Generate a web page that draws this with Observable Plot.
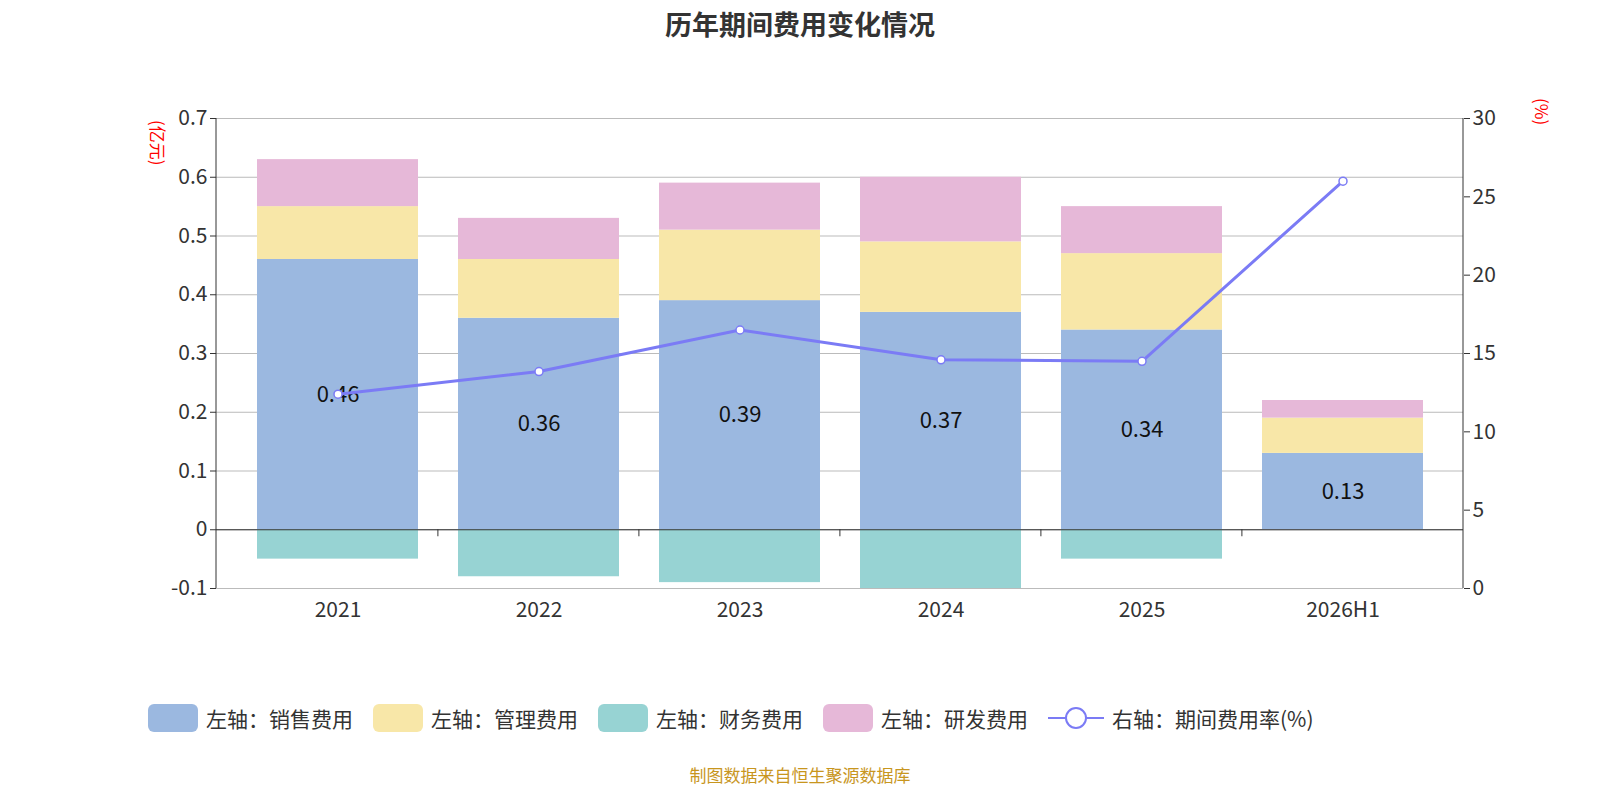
<!DOCTYPE html>
<html><head><meta charset="utf-8">
<script src="https://cdn.jsdelivr.net/npm/d3@7"></script>
<script src="https://cdn.jsdelivr.net/npm/@observablehq/plot@0.6"></script>
<style>
body{margin:0;width:1600px;height:800px;background:#fff;font-family:"Noto Sans CJK SC","Noto Sans",sans-serif;position:relative;overflow:hidden}
#title{position:absolute;top:4px;width:100%;text-align:center;font-size:27px;font-weight:bold;color:#333}
#chart{position:absolute;top:50px;left:0}
#legend{position:absolute;top:703px;left:148px;display:flex;gap:0;font-size:21px;color:#333;align-items:center}
.item{display:flex;align-items:center;margin-right:20px}
.sw{width:50px;height:28px;border-radius:6px;margin-right:8px}
#cap{position:absolute;top:762px;width:100%;text-align:center;font-size:17px;color:#c8961e}
.u{position:absolute;color:red;font-size:17px}
</style></head><body>
<div id="title">历年期间费用变化情况</div>
<div id="chart"></div>
<div class="u" style="left:146px;top:120px;writing-mode:vertical-rl;text-orientation:sideways">(亿元)</div>
<div class="u" style="left:1530px;top:98px;writing-mode:vertical-rl">(%)</div>
<div id="legend"></div>
<div id="cap">制图数据来自恒生聚源数据库</div>
<script>
const years=["2021","2022","2023","2024","2025","2026H1"];
const sales=[0.46,0.36,0.39,0.37,0.34,0.13];
const mgmt=[0.09,0.10,0.12,0.12,0.13,0.06];
const finance=[-0.05,-0.08,-0.09,-0.10,-0.05,0];
const rnd=[0.08,0.07,0.08,0.11,0.08,0.03];
const rate=[12.4,13.85,16.5,14.6,14.5,26.0];
const leftTicks=[-0.1,0,0.1,0.2,0.3,0.4,0.5,0.6,0.7];
const rightTicks=[0,5,10,15,20,25,30];
const names=["左轴：销售费用","左轴：管理费用","左轴：财务费用","左轴：研发费用"];
const colors=["#9bb8e0","#f8e7a8","#97d3d3","#e6b8d8"];
const lineColor="#7b7bf5";
const toLeft=v=>-0.1+v/30*0.8;
const fromLeft=y=>Math.round((y+0.1)/0.8*30);
const stack=[];
years.forEach((y,i)=>{
  stack.push({x:y,s:names[0],y1:0,y2:sales[i]});
  stack.push({x:y,s:names[1],y1:sales[i],y2:sales[i]+mgmt[i]});
  stack.push({x:y,s:names[3],y1:sales[i]+mgmt[i],y2:sales[i]+mgmt[i]+rnd[i]});
  if(finance[i]) stack.push({x:y,s:names[2],y1:finance[i],y2:0});
});
const lineData=years.map((y,i)=>({x:y,v:toLeft(rate[i])}));
const plot=Plot.plot({
  width:1600,height:600,marginLeft:216,marginRight:137,marginTop:68,marginBottom:62,
  style:{fontSize:"21px",fontFamily:"Noto Sans CJK SC, sans-serif",color:"#333"},
  x:{domain:years,padding:0.2,label:null},
  y:{domain:[-0.1,0.7],label:null},
  color:{domain:names,range:colors},
  marks:[
    Plot.gridY(leftTicks,{stroke:"#bbb",strokeOpacity:1}),
    Plot.rectY(stack,{x:"x",y1:"y1",y2:"y2",fill:"s"}),
    Plot.text(years.map((y,i)=>({x:y,y:sales[i]/2,t:String(sales[i])})),{x:"x",y:"y",text:"t",fontSize:22,fill:"#111"}),
    Plot.ruleY([0],{stroke:"#333"}),
    Plot.ruleY([-0.1],{stroke:"#bbb"}),
    Plot.axisY({ticks:leftTicks,tickFormat:d=>String(d),tickSize:6,fontSize:21,label:null}),
    Plot.axisY({anchor:"right",ticks:rightTicks.map(toLeft),tickFormat:fromLeft,tickSize:6,fontSize:21,label:null}),
    Plot.axisX({tickSize:0,fontSize:21,tickPadding:14,label:null}),
    Plot.line(lineData,{x:"x",y:"v",stroke:lineColor,strokeWidth:3}),
    Plot.dot(lineData,{x:"x",y:"v",r:4,fill:"#fff",stroke:lineColor,strokeWidth:1.5})
  ]
});
document.getElementById("chart").appendChild(plot);
const svg=d3.select(plot);
const xs=plot.scale("x"), ys=plot.scale("y");
const y0=ys.apply(0);
const step=xs.step;
years.forEach((y,i)=>{
  if(i===0) return;
  const bx=xs.apply(y)-step*0.1;
  svg.append("line").attr("x1",bx).attr("x2",bx).attr("y1",y0).attr("y2",y0+7).attr("stroke","#333");
});
svg.append("line").attr("x1",216).attr("x2",216).attr("y1",68).attr("y2",538).attr("stroke","#333");
svg.append("line").attr("x1",1463).attr("x2",1463).attr("y1",68).attr("y2",538).attr("stroke","#333");
const lg=document.getElementById("legend");
names.forEach((n,i)=>{lg.insertAdjacentHTML("beforeend",`<div class="item"><div class="sw" style="background:${colors[i]}"></div>${n}</div>`)});
lg.insertAdjacentHTML("beforeend",`<div class="item"><svg width="56" height="28"><line x1="0" x2="56" y1="14" y2="14" stroke="${lineColor}" stroke-width="2"/><circle cx="28" cy="14" r="10" fill="#fff" stroke="${lineColor}" stroke-width="2"/></svg><span style="margin-left:8px">右轴：期间费用率(%)</span></div>`);
</script></body></html>
